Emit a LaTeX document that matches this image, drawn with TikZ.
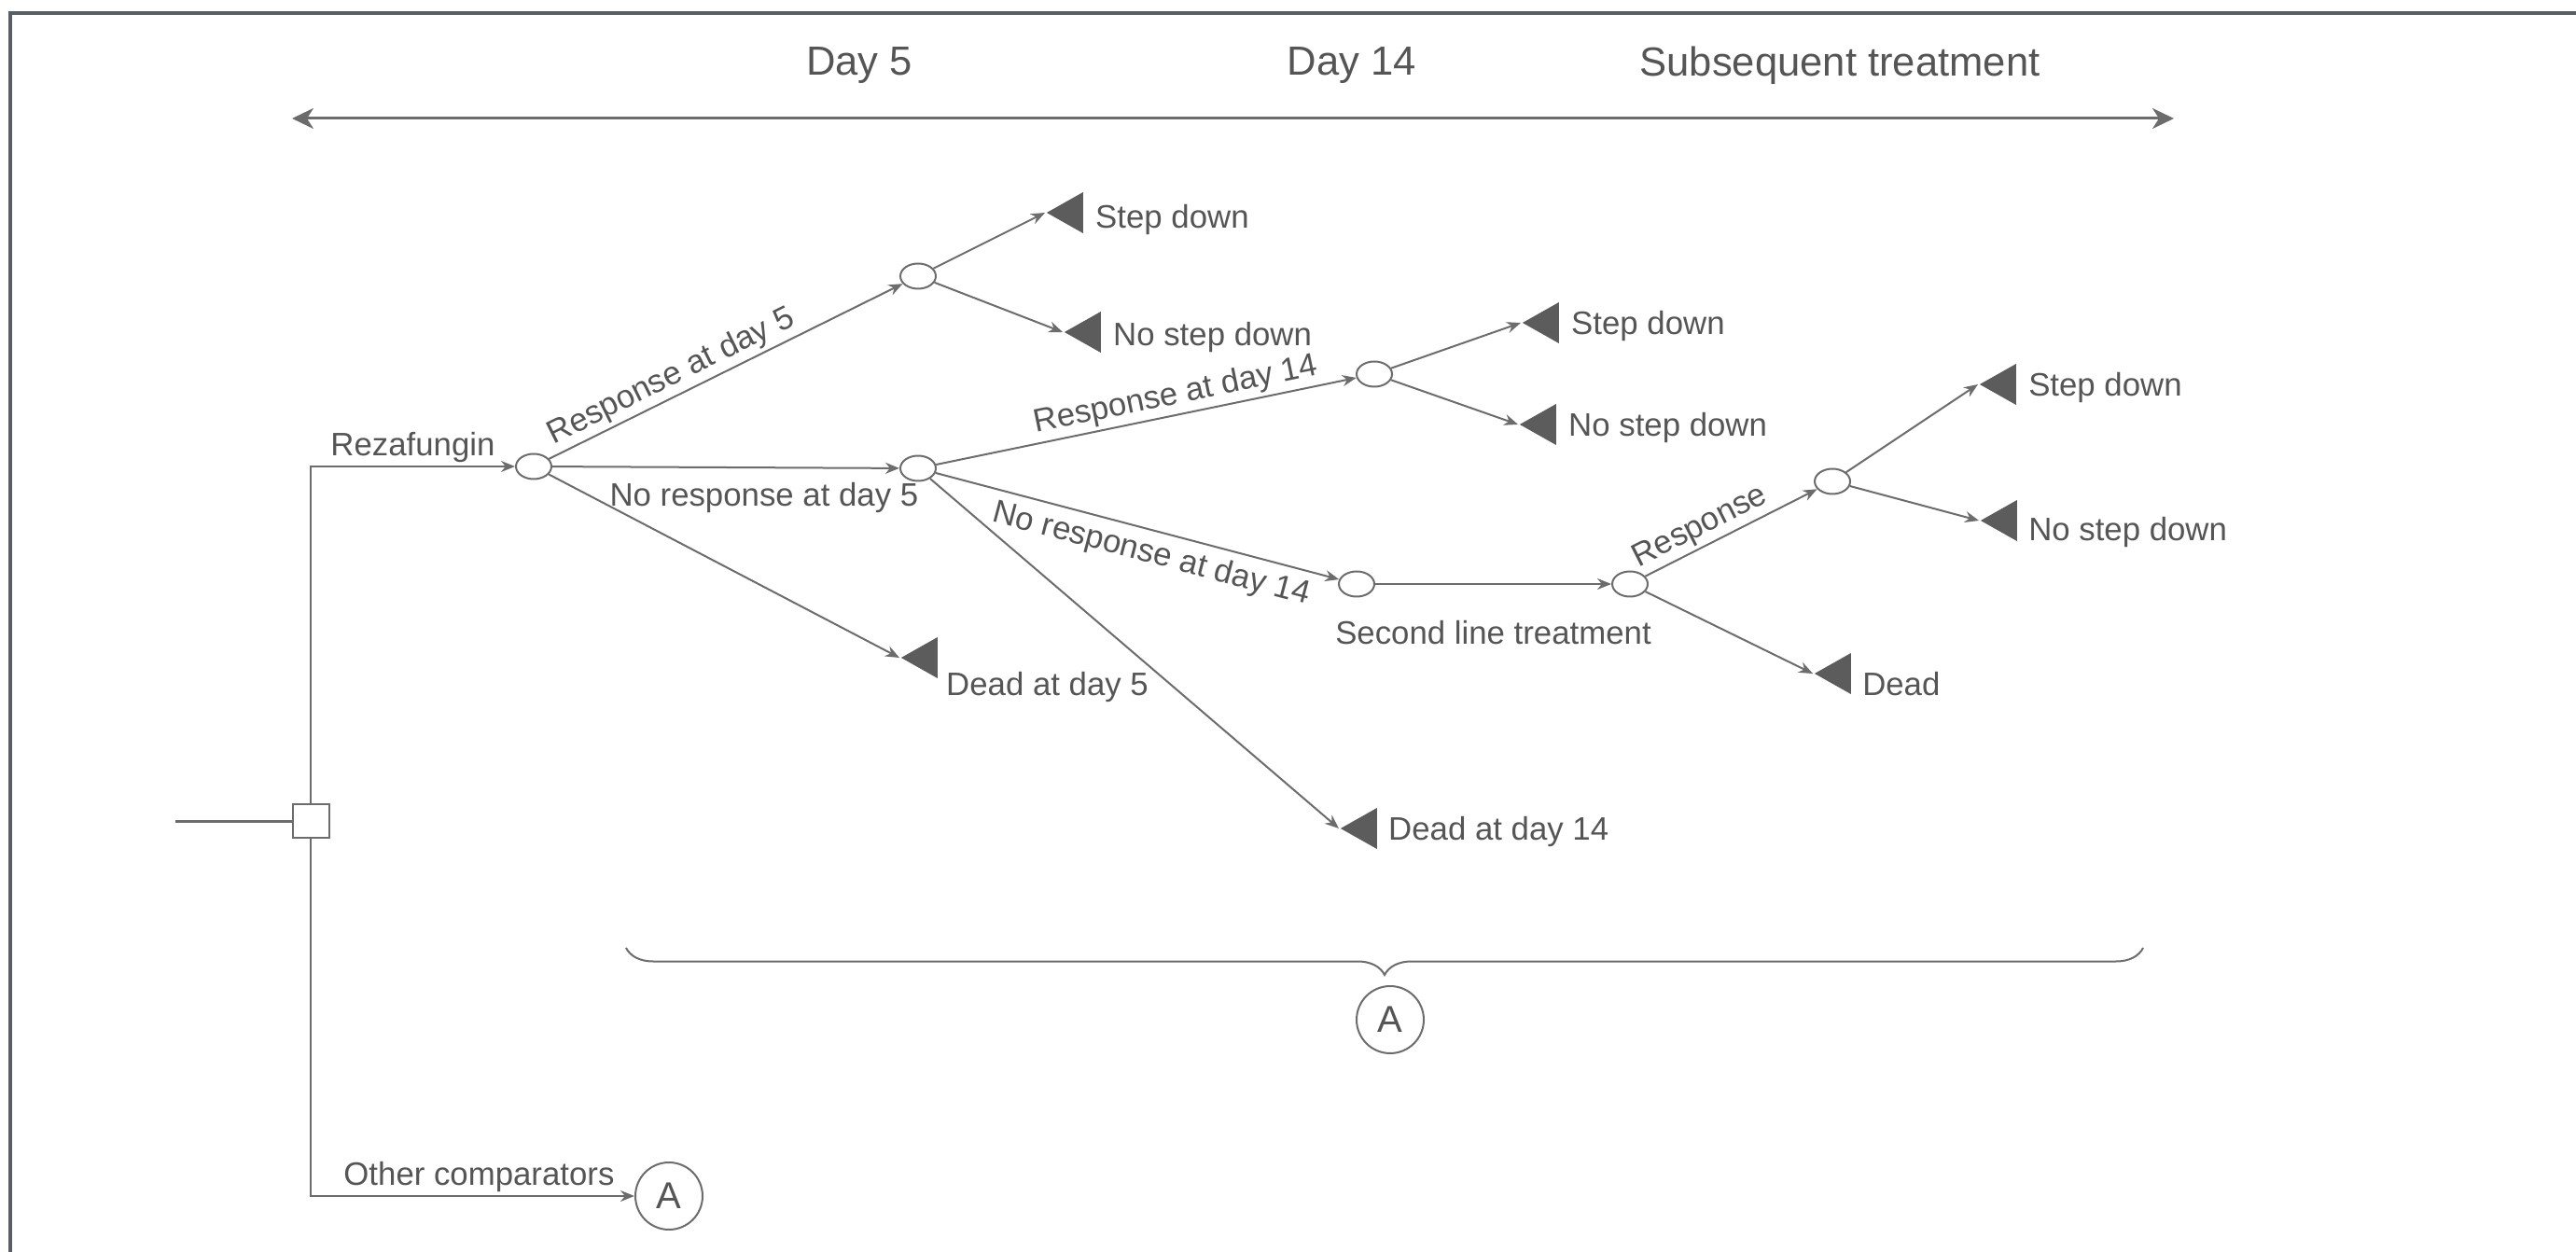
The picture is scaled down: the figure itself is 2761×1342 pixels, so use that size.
\documentclass[tikz,border=0pt]{standalone}
\usepackage{fontspec}
\setmainfont{Liberation Sans}
\usetikzlibrary{arrows.meta,shapes.geometric,positioning,decorations.pathreplacing}
\definecolor{edgegray}{RGB}{108,108,108}
\definecolor{textgray}{RGB}{85,85,85}
\definecolor{leafgray}{RGB}{92,92,92}
\definecolor{framegray}{RGB}{88,94,98}

\begin{document}
\begin{tikzpicture}[x=0.1mm, y=-0.1mm,
  every node/.style={text=textgray, font=\fontsize{9.9}{12}\selectfont},
  chance/.style={draw=edgegray, ellipse, minimum width=3.8mm, minimum height=2.7mm, inner sep=0pt, line width=0.2mm},
  decision/.style={draw=edgegray, rectangle, minimum width=3.9mm, minimum height=3.6mm, inner sep=0pt, line width=0.2mm},
  leaf/.style={isosceles triangle, shape border rotate=180, isosceles triangle stretches, fill=leafgray, minimum width=4.4mm, minimum height=3.9mm, inner sep=0pt, anchor=apex},
  conn/.style={draw=edgegray, line width=0.2mm, -{Stealth[length=1.5mm,width=1.2mm]}},
  elbl/.style={inner sep=1pt},
  lbl/.style={inner sep=1pt},
  ref/.style={draw=edgegray, circle, minimum size=7.2mm, inner sep=0pt, line width=0.2mm, font=\fontsize{11.4}{13}\selectfont},
  head/.style={font=\fontsize{12.4}{14}\selectfont}
]
\useasboundingbox (0,0) rectangle (2761,1342);
\draw[framegray, line width=0.4mm] (11,1342) -- (11,14) -- (2761,14);

% time line
\coordinate (tl) at (313,127);
\coordinate (tr) at (2330,127);
\draw[edgegray, line width=0.3mm, {Stealth[length=2.3mm,width=2.2mm,inset=0.7mm]}-{Stealth[length=2.3mm,width=2.2mm,inset=0.7mm]}] (tl) -- (tr);
\node[head] (day5) at (921,70) {Day 5};
\node[head] (day14) at (1449,70) {Day 14};
\node[head] (subs) at (1972,70) {Subsequent treatment};

% tree nodes
\coordinate (start) at (188,880);
\node[decision] (dec) at (333,880) {};
\node[chance] (c1) at (572,500) {};
\node[chance] (c2) at (984,296) {};
\node[chance] (c3) at (984,502) {};
\node[chance] (c4) at (1473,401) {};
\node[chance] (c5) at (1454,626) {};
\node[chance] (c6) at (1747,626) {};
\node[chance] (c7) at (1964,516) {};
\node[ref] (aref) at (717,1282) {A};

\node[leaf] (sd1) at (1120,228) {};
\node[leaf] (nsd1) at (1139,356) {};
\node[leaf] (dead5) at (964,705) {};
\node[leaf] (sd2) at (1630,346) {};
\node[leaf] (nsd2) at (1627,455) {};
\node[leaf] (dead14) at (1435,888) {};
\node[leaf] (sd3) at (2120,412) {};
\node[leaf] (nsd3) at (2121,558) {};
\node[leaf] (dead) at (1943,722) {};

\node[lbl, right=5.0mm of sd1.apex, yshift=-0.8mm] (sd1txt) {Step down};
\node[lbl, right=5.0mm of nsd1.apex, yshift=-0.6mm] (nsd1txt) {No step down};
\node[lbl, right=4.6mm of dead5.apex, yshift=-3.2mm] (dead5txt) {Dead at day 5};
\node[lbl, right=5.0mm of sd2.apex, yshift=-0.4mm] (sd2txt) {Step down};
\node[lbl, right=5.0mm of nsd2.apex, yshift=-0.4mm] (nsd2txt) {No step down};
\node[lbl, right=4.9mm of dead14.apex, yshift=-0.4mm] (dead14txt) {Dead at day 14};
\node[lbl, right=5.0mm of sd3.apex, yshift=-0.4mm] (sd3txt) {Step down};
\node[lbl, right=4.9mm of nsd3.apex, yshift=-1.3mm] (nsd3txt) {No step down};
\node[lbl, right=4.9mm of dead.apex, yshift=-1.1mm] (deadtxt) {Dead};

% branches
\draw[edgegray, line width=0.3mm] (start) -- (dec);
\draw[conn] (dec.north) |- node[elbl, pos=0.75, above] {Rezafungin} (c1);
\draw[conn] (dec.south) |- node[elbl, pos=0.76, above] {Other comparators} (aref);
\draw[conn] (c1) -- node[elbl, pos=0.37, above, sloped] {Response at day 5} (c2);
\draw[conn] (c1) -- node[elbl, pos=0.61, below=1.2mm] {No response at day 5} (c3);
\draw[conn] (c1) -- (dead5.apex);
\draw[conn] (c2) -- (sd1.apex);
\draw[conn] (c2) -- (nsd1.apex);
\draw[conn] (c3) -- node[elbl, pos=0.58, above, sloped] {Response at day 14} (c4);
\draw[conn] (c3) -- node[elbl, pos=0.55, below=0.5mm, sloped] {No response at day 14} (c5);
\draw[conn] (c3) -- (dead14.apex);
\draw[conn] (c4) -- (sd2.apex);
\draw[conn] (c4) -- (nsd2.apex);
\draw[conn] (c5) -- node[elbl, midway, below=3.5mm] {Second line treatment} (c6);
\draw[conn] (c6) -- node[elbl, pos=0.37, above, sloped] {Response} (c7);
\draw[conn] (c6) -- (dead.apex);
\draw[conn] (c7) -- (sd3.apex);
\draw[conn] (c7) -- (nsd3.apex);

% brace over the subtree
\draw[edgegray, line width=0.2mm, decorate, decoration={brace, amplitude=2.9mm}] (2297,1016) -- (671,1016);
\node[ref] (bref) at (1490,1093) {A};
\end{tikzpicture}
\end{document}
